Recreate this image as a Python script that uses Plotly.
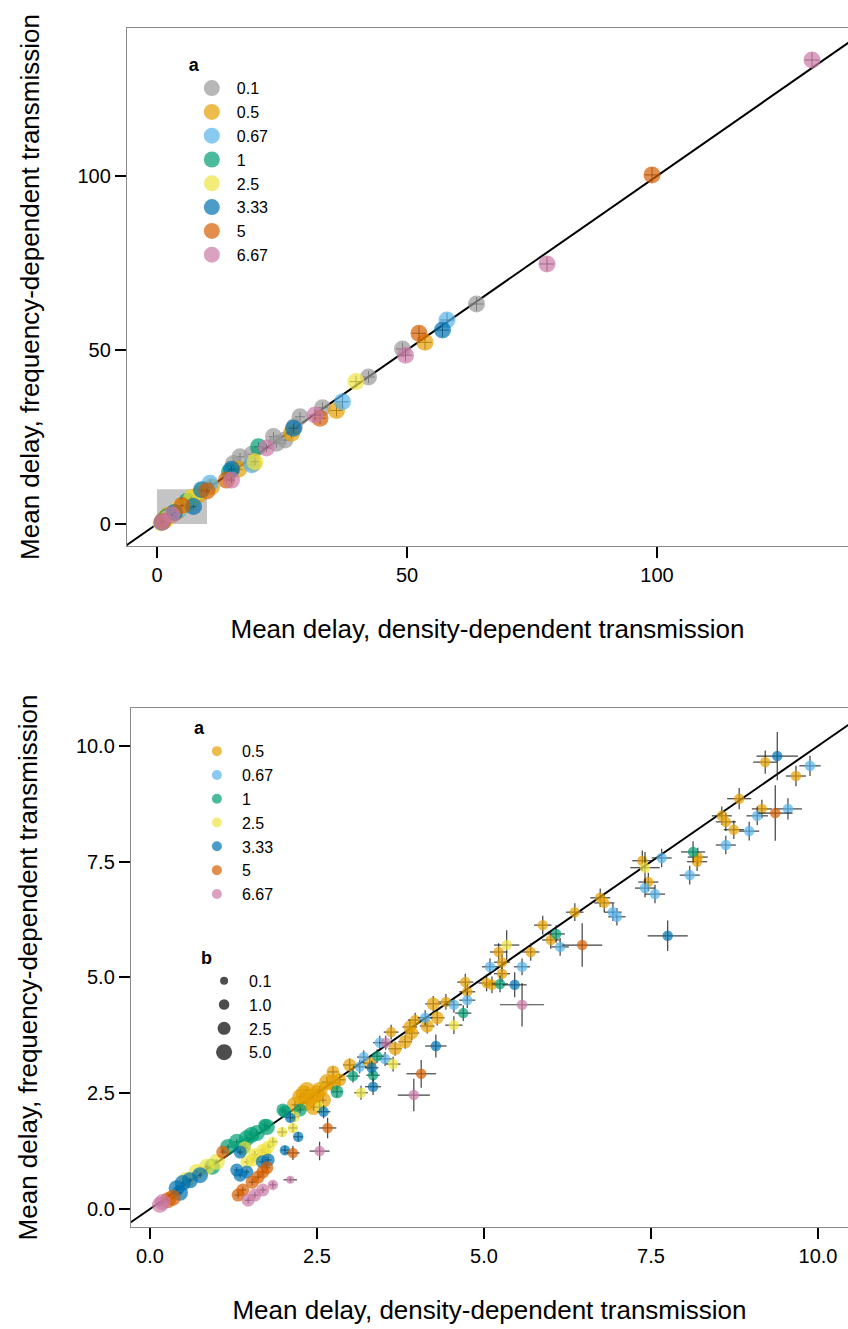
import plotly.graph_objects as go

# ---------------- categories & styling keys ----------------
A_LEVELS = ["0.1", "0.5", "0.67", "1", "2.5", "3.33", "5", "6.67"]
A_COLORS = ["#999999", "#E69F00", "#56B4E9", "#009E73", "#F0E442", "#0072B2", "#D55E00", "#CC79A7"]
B_LEVELS = ["0.1", "1.0", "2.5", "5.0"]
B_VALUES = [0.1, 1.0, 2.5, 5.0]

TOP_TICKS = [0, 50, 100]
BOT_TICKS = [0.0, 2.5, 5.0, 7.5, 10.0]

X_TITLE = "Mean delay, density-dependent transmission"
Y_TITLE = "Mean delay, frequency-dependent transmission"

# ---------------- top panel data (mean delay, error half-widths) ----------------
top_x = {
    "0.1":  [63.9, 49.1, 42.3, 33.1, 28.6, 25.6, 23.9, 23.3, 16.6, 15.3, 19.0, 27.5],
    "0.5":  [53.6, 35.9, 26.9, 19.3, 16.3, 10.9, 8.3, 3.3, 1.5, 5.0, 6.5, 2.2, 4.0, 7.0],
    "0.67": [58.0, 37.1, 18.9, 10.6, 4.5, 1.2],
    "1":    [20.3, 14.5, 6.0, 2.0],
    "2.5":  [39.8, 19.6, 6.9, 1.3, 0.8, 2.0, 4.5, 9.0],
    "3.33": [57.1, 27.3, 14.9, 8.9, 7.3, 1.0, 3.5],
    "5":    [99.0, 52.4, 32.6, 13.9, 10.0, 1.2, 5.0],
    "6.67": [131.0, 78.0, 49.7, 31.6, 21.9, 14.9, 1.0, 3.0],
}
top_y = {
    "0.1":  [63.2, 50.3, 42.2, 33.4, 30.8, 24.1, 23.2, 25.1, 19.3, 17.4, 20.0, 28.0],
    "0.5":  [52.2, 32.6, 26.1, 17.4, 15.7, 10.7, 8.3, 3.1, 1.5, 5.0, 6.0, 2.5, 3.5, 7.5],
    "0.67": [58.6, 35.1, 17.0, 11.7, 4.2, 1.0],
    "1":    [22.2, 15.0, 6.5, 2.0],
    "2.5":  [40.9, 17.9, 7.4, 0.7, 0.3, 1.5, 4.7, 9.5],
    "3.33": [55.7, 27.5, 15.7, 9.8, 5.0, 0.5, 3.3],
    "5":    [100.3, 54.8, 30.4, 12.6, 9.5, 0.8, 5.3],
    "6.67": [133.3, 74.7, 48.5, 31.3, 21.8, 12.6, 0.5, 2.6],
}
top_ex = {
    "0.1":  [1.4, 1.3, 1.2, 1.1, 1.0, 1.0, 0.9, 0.9, 0.8, 0.8, 0.8, 1.0],
    "0.5":  [1.4, 1.2, 1.0, 0.8, 0.8, 0.6, 0.5, 0.3, 0.2, 0.4, 0.4, 0.2, 0.3, 0.5],
    "0.67": [1.4, 1.2, 0.8, 0.6, 0.3, 0.1],
    "1":    [0.9, 0.7, 0.4, 0.2],
    "2.5":  [1.2, 0.8, 0.5, 0.1, 0.1, 0.2, 0.3, 0.5],
    "3.33": [1.4, 1.0, 0.7, 0.5, 0.5, 0.1, 0.3],
    "5":    [1.5, 1.4, 1.2, 0.7, 0.6, 0.1, 0.4],
    "6.67": [1.5, 1.5, 1.3, 1.2, 0.9, 0.7, 0.1, 0.2],
}
top_ey = {
    "0.1":  [2.0, 1.8, 1.7, 1.5, 1.4, 1.3, 1.3, 1.3, 1.1, 1.1, 1.1, 1.4],
    "0.5":  [2.0, 1.7, 1.4, 1.2, 1.1, 0.8, 0.7, 0.4, 0.2, 0.5, 0.5, 0.3, 0.4, 0.6],
    "0.67": [2.0, 1.7, 1.1, 0.8, 0.4, 0.1],
    "1":    [1.2, 1.0, 0.5, 0.2],
    "2.5":  [1.7, 1.1, 0.6, 0.1, 0.1, 0.2, 0.4, 0.7],
    "3.33": [2.0, 1.4, 1.0, 0.7, 0.5, 0.1, 0.3],
    "5":    [2.2, 2.0, 1.7, 0.9, 0.7, 0.1, 0.5],
    "6.67": [2.2, 2.1, 1.8, 1.7, 1.2, 0.9, 0.1, 0.3],
}

# ---------------- bottom panel data (zoom on 0-10, a >= 0.5) ----------------
bot_x = {
    "0.5":  [9.21, 9.67, 8.82, 9.16, 8.56, 8.62, 8.74, 8.20, 8.19, 7.37, 7.46, 6.74, 6.80, 6.36, 5.88,
             6.00, 5.70, 5.22, 5.27, 5.27, 5.04, 5.12, 4.72, 4.75, 4.43, 4.24, 4.30, 4.15, 3.97, 3.89,
             3.92, 3.61, 3.82, 3.67, 3.29, 2.99, 2.74, 2.84, 2.65, 2.74, 2.35, 2.50, 2.25, 2.59, 2.35,
             2.42, 2.17, 2.54, 2.45, 2.30],
    "0.67": [9.88, 9.55, 9.09, 8.97, 8.62, 8.08, 7.66, 7.41, 7.56, 6.93, 6.99, 6.14, 5.09, 5.57, 4.75,
             4.55, 4.12, 3.44, 3.52, 3.20, 3.14],
    "1":    [8.13, 6.08, 5.24, 4.69, 3.40, 3.34, 3.04, 2.80, 1.99, 2.25, 2.02, 1.72, 1.75, 1.60, 1.45,
             1.30, 1.17, 1.39, 0.93, 1.52],
    "2.5":  [7.41, 5.34, 4.55, 3.64, 3.16, 2.54, 2.17, 2.14, 1.98, 1.84, 1.77, 1.69, 1.57, 1.72, 1.42,
             1.45, 1.54, 1.00, 0.85, 0.70, 0.55],
    "3.33": [9.39, 7.75, 5.46, 4.28, 3.34, 3.32, 2.60, 2.10, 2.22, 2.02, 1.77, 1.68, 1.35, 1.30, 1.45,
             1.35, 0.75, 0.49, 0.40, 0.45, 0.60],
    "5":    [9.36, 6.47, 4.06, 2.66, 2.14, 1.09, 1.75, 1.69, 1.62, 1.53, 1.39, 1.32, 0.27, 0.34],
    "6.67": [5.57, 3.95, 2.54, 2.10, 1.84, 1.69, 1.57, 1.47, 0.19, 0.15, 3.53],
}
bot_y = {
    "0.5":  [9.65, 9.35, 8.86, 8.64, 8.49, 8.36, 8.19, 7.60, 7.50, 7.52, 7.06, 6.72, 6.61, 6.41, 6.13,
             5.81, 5.55, 5.55, 5.33, 5.08, 4.88, 4.84, 4.90, 4.69, 4.47, 4.43, 4.13, 3.95, 4.08, 3.93,
             3.80, 3.82, 3.61, 3.46, 3.15, 3.11, 2.96, 2.79, 2.74, 2.72, 2.57, 2.50, 2.42, 2.35, 2.29,
             2.40, 2.25, 2.57, 2.20, 2.50],
    "0.67": [9.57, 8.64, 8.49, 8.16, 7.86, 7.21, 7.58, 6.93, 6.80, 6.41, 6.31, 5.66, 5.23, 5.23, 4.51,
             4.41, 4.13, 3.59, 3.24, 3.28, 3.07],
    "1":    [7.71, 5.94, 4.86, 4.23, 3.30, 2.89, 2.87, 2.53, 2.14, 2.14, 2.10, 1.81, 1.77, 1.64, 1.53,
             1.45, 1.34, 1.34, 0.91, 1.60],
    "2.5":  [7.37, 5.70, 3.97, 3.13, 2.51, 2.20, 1.99, 1.75, 1.66, 1.45, 1.34, 1.27, 1.17, 1.23, 1.32,
             1.02, 1.06, 1.02, 0.91, 0.80, 0.63],
    "3.33": [9.78, 5.90, 4.84, 3.52, 2.64, 3.05, 2.10, 1.97, 1.56, 1.27, 1.06, 1.02, 1.23, 0.84, 0.80,
             0.73, 0.73, 0.56, 0.45, 0.35, 0.62],
    "5":    [8.55, 5.70, 2.92, 1.75, 1.21, 1.23, 0.89, 0.80, 0.69, 0.58, 0.41, 0.30, 0.19, 0.24],
    "6.67": [4.41, 2.46, 1.25, 0.63, 0.52, 0.41, 0.30, 0.19, 0.15, 0.09, 3.59],
}
bot_ex = {
    "0.5":  [.18, .15, .18, .15, .15, .15, .15, .15, .15, .15, .15, .15, .15, .13, .13,
             .13, .13, .13, .12, .12, .12, .12, .12, .12, .12, .12, .11, .11, .11, .11,
             .11, .11, .10, .10, .10, .10, .08, .08, .08, .08, .05, .05, .05, .05, .05,
             .05, .05, .05, .05, .05],
    "0.67": [.16, .21, .16, .15, .15, .15, .15, .15, .15, .13, .13, .13, .12, .12, .12,
             .12, .11, .10, .10, .10, .10],
    "1":    [.18, .13, .12, .12, .10, .10, .10, .08, .05, .05, .05, .04, .04, .04, .04,
             .04, .04, .04, .03, .04],
    "2.5":  [.22, .19, .13, .11, .10, .08, .07, .07, .07, .06, .05, .05, .05, .05, .05,
             .04, .04, .03, .03, .03, .03],
    "3.33": [.31, .30, .18, .16, .12, .10, .10, .06, .07, .06, .05, .05, .05, .04, .04,
             .04, .03, .03, .03, .03, .03],
    "5":    [.26, .30, .22, .13, .10, .04, .05, .05, .05, .05, .05, .05, .03, .03],
    "6.67": [.33, .24, .15, .10, .05, .05, .05, .05, .03, .03, .10],
}
bot_ey = {
    "0.5":  [.25, .22, .23, .20, .20, .20, .20, .20, .20, .22, .20, .20, .20, .19, .20,
             .19, .19, .19, .18, .18, .18, .18, .18, .18, .17, .17, .17, .16, .16, .16,
             .16, .16, .15, .15, .14, .14, .12, .12, .12, .12, .08, .08, .08, .08, .08,
             .08, .08, .08, .08, .08],
    "0.67": [.22, .23, .20, .20, .20, .20, .20, .20, .20, .19, .19, .19, .18, .18, .17,
             .17, .16, .15, .15, .14, .14],
    "1":    [.23, .19, .18, .17, .15, .14, .14, .12, .07, .07, .07, .06, .06, .06, .06,
             .06, .06, .06, .05, .06],
    "2.5":  [.34, .32, .19, .16, .15, .12, .10, .10, .10, .09, .08, .08, .08, .08, .08,
             .06, .06, .05, .05, .05, .05],
    "3.33": [.52, .33, .27, .25, .18, .15, .14, .09, .10, .09, .08, .08, .07, .06, .06,
             .06, .05, .05, .05, .05, .05],
    "5":    [.60, .47, .30, .22, .15, .06, .07, .07, .07, .07, .07, .07, .04, .04],
    "6.67": [.47, .35, .20, .05, .07, .07, .07, .07, .04, .04, .15],
}
bot_b = {
    "0.5":  [1.0, 1.0, 1.0, 1.0, 1.0, 1.0, 1.0, 1.0, 1.0, 1.0, 1.0, 1.0, 1.0, 1.0, 1.0,
             1.0, 1.0, 1.0, 1.0, 1.0, 1.0, 1.0, 1.0, 1.0, 1.0, 2.5, 2.5, 2.5, 1.0, 2.5,
             2.5, 1.0, 2.5, 2.5, 2.5, 2.5, 2.5, 2.5, 5.0, 5.0, 5.0, 5.0, 5.0, 5.0, 5.0,
             5.0, 5.0, 5.0, 5.0, 5.0],
    "0.67": [1.0, 1.0, 1.0, 1.0, 1.0, 1.0, 1.0, 1.0, 1.0, 1.0, 1.0, 1.0, 1.0, 1.0, 1.0,
             1.0, 1.0, 1.0, 1.0, 1.0, 1.0],
    "1":    [1.0, 1.0, 1.0, 1.0, 1.0, 1.0, 1.0, 2.5, 2.5, 2.5, 2.5, 2.5, 5.0, 5.0, 5.0,
             5.0, 5.0, 5.0, 5.0, 5.0],
    "2.5":  [1.0, 1.0, 1.0, 1.0, 1.0, 1.0, 1.0, 1.0, 1.0, 1.0, 2.5, 2.5, 2.5, 2.5, 2.5,
             2.5, 2.5, 5.0, 5.0, 5.0, 5.0],
    "3.33": [1.0, 1.0, 1.0, 1.0, 1.0, 1.0, 1.0, 1.0, 1.0, 1.0, 2.5, 2.5, 2.5, 2.5, 2.5,
             2.5, 5.0, 5.0, 5.0, 5.0, 5.0],
    "5":    [1.0, 1.0, 1.0, 1.0, 1.0, 2.5, 2.5, 2.5, 2.5, 2.5, 2.5, 2.5, 5.0, 5.0],
    "6.67": [1.0, 1.0, 1.0, 0.1, 1.0, 2.5, 2.5, 2.5, 5.0, 5.0, 1.0],
}

# ---------------- style ----------------
FONT = "Liberation Sans, Arial, sans-serif"
B_SIZE_PX = {0.1: 8, 1.0: 10.5, 2.5: 13, 5.0: 16}
OPACITY = 0.7
ERR_COLOR = "rgba(30,30,30,0.85)"
SPINE = "#8a8a8a"

fig = go.Figure()

# top panel: diagonal reference line
fig.add_trace(go.Scatter(x=[-20, 300], y=[-20, 300], mode="lines",
                         line=dict(color="black", width=2), showlegend=False,
                         hoverinfo="skip", xaxis="x", yaxis="y"))
for lvl, col in zip(A_LEVELS, A_COLORS):
    fig.add_trace(go.Scatter(
        x=top_x[lvl], y=top_y[lvl], mode="markers", xaxis="x", yaxis="y",
        marker=dict(color=col, size=17, opacity=OPACITY, line=dict(width=0)),
        error_x=dict(type="data", array=top_ex[lvl], color=ERR_COLOR, thickness=1, width=0),
        error_y=dict(type="data", array=top_ey[lvl], color=ERR_COLOR, thickness=1, width=0),
        showlegend=False, name=lvl))
# top legend entries
for lvl, col in zip(A_LEVELS, A_COLORS):
    fig.add_trace(go.Scatter(x=[None], y=[None], mode="markers", xaxis="x", yaxis="y",
                             marker=dict(color=col, size=16, opacity=OPACITY),
                             name=lvl, legend="legend", showlegend=True))

# bottom panel
fig.add_trace(go.Scatter(x=[-2, 20], y=[-2, 20], mode="lines",
                         line=dict(color="black", width=2), showlegend=False,
                         hoverinfo="skip", xaxis="x2", yaxis="y2"))
for lvl, col in zip(A_LEVELS, A_COLORS):
    if lvl not in bot_x:
        continue
    fig.add_trace(go.Scatter(
        x=bot_x[lvl], y=bot_y[lvl], mode="markers", xaxis="x2", yaxis="y2",
        marker=dict(color=col, size=[B_SIZE_PX[b] for b in bot_b[lvl]], opacity=OPACITY,
                    line=dict(width=0)),
        error_x=dict(type="data", array=bot_ex[lvl], color=ERR_COLOR, thickness=1.2, width=0),
        error_y=dict(type="data", array=bot_ey[lvl], color=ERR_COLOR, thickness=1.2, width=0),
        showlegend=False, name=lvl))
for lvl, col in zip(A_LEVELS, A_COLORS):
    if lvl not in bot_x:
        continue
    fig.add_trace(go.Scatter(x=[None], y=[None], mode="markers", xaxis="x2", yaxis="y2",
                             marker=dict(color=col, size=10, opacity=OPACITY),
                             name=lvl, legend="legend2", showlegend=True))
for lab, bv in zip(B_LEVELS, B_VALUES):
    fig.add_trace(go.Scatter(x=[None], y=[None], mode="markers", xaxis="x2", yaxis="y2",
                             marker=dict(color="#4d4d4d", size=B_SIZE_PX[bv]),
                             name=lab, legend="legend3", showlegend=True))

axis_common = dict(showline=True, linecolor=SPINE, linewidth=1.3, mirror=True,
                   showgrid=False, zeroline=False, ticks="outside", ticklen=11,
                   tickwidth=2, tickcolor="black", automargin=False,
                   tickfont=dict(family=FONT, size=20, color="black"))

legend_common = dict(xanchor="left", yanchor="top", bgcolor="rgba(0,0,0,0)",
                     font=dict(family=FONT, size=16), itemsizing="trace", itemwidth=40)

fig.update_layout(
    width=848, height=1329,
    margin=dict(l=127, r=0, t=28, b=102),
    paper_bgcolor="white", plot_bgcolor="white",
    font=dict(family=FONT, color="black"),
    xaxis=dict(domain=[0, 1], anchor="y", range=[-6.0, 138.2], tickvals=TOP_TICKS,
               title=dict(text=X_TITLE, font=dict(size=26), standoff=34), **axis_common),
    yaxis=dict(domain=[0.568, 1], anchor="x", range=[-6.32, 142.5], tickvals=TOP_TICKS,
               title=dict(text=Y_TITLE, font=dict(size=26), standoff=30), **axis_common),
    xaxis2=dict(domain=[0.0055, 1], anchor="y2", range=[-0.284, 10.449], tickvals=BOT_TICKS,
                tickformat=".1f",
                title=dict(text=X_TITLE, font=dict(size=26), standoff=34), **axis_common),
    yaxis2=dict(domain=[0, 0.4329], anchor="x2", range=[-0.389, 10.82], tickvals=BOT_TICKS,
                tickformat=".1f",
                title=dict(text=Y_TITLE, font=dict(size=26), standoff=30), **axis_common),
    legend=dict(x=0.083, y=0.9835,
                title=dict(text="<b>a</b>", font=dict(family=FONT, size=18)), **legend_common),
    legend2=dict(x=0.090, y=0.4305,
                 title=dict(text="<b>a</b>", font=dict(family=FONT, size=18)), **legend_common),
    legend3=dict(x=0.100, y=0.239,
                 title=dict(text="<b>b</b>", font=dict(family=FONT, size=18)), **legend_common),
    shapes=[dict(type="rect", xref="x", yref="y", x0=0, y0=0, x1=10, y1=10,
                 fillcolor="#c4c4c4", line=dict(width=0), layer="below")],
)

fig.write_html("out.html", config={"displayModeBar": False},
               post_script="document.body.style.margin='0';document.body.style.overflow='hidden';")
